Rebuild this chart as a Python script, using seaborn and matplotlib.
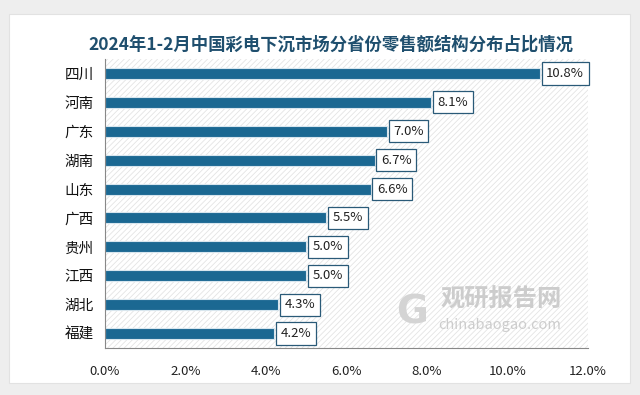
import pandas as pd
import seaborn as sns
import matplotlib.pyplot as plt
from matplotlib.patches import Rectangle
from matplotlib.ticker import FuncFormatter

# provinces and retail share (%)
provinces = ['四川', '河南', '广东', '湖南', '山东', '广西', '贵州', '江西', '湖北', '福建']
shares = [10.8, 8.1, 7.0, 6.7, 6.6, 5.5, 5.0, 5.0, 4.3, 4.2]
x_ticks = [0, 2, 4, 6, 8, 10, 12]

df = pd.DataFrame({'province': provinces, 'share': shares})

sns.set_style('white')
plt.rcParams['font.family'] = ['Noto Sans CJK SC', 'DejaVu Sans']
plt.rcParams['hatch.linewidth'] = 0.6

fig = plt.figure(figsize=(6.4, 3.95), dpi=100)
fig.patch.set_facecolor('#eeeeee')
# white card behind the chart
fig.patches.append(Rectangle((9 / 640, 1 - 383 / 395), 621 / 640, 369 / 395,
                             transform=fig.transFigure, facecolor='white',
                             edgecolor='#e2e2e2', lw=0.8, zorder=-5))

ax = fig.add_axes([105 / 640, 1 - 348 / 395, 483 / 640, 289 / 395])
ax.patch.set_facecolor('white')
ax.patch.set_hatch('//////')
ax.patch.set_edgecolor('#e4e4e4')

sns.barplot(data=df, x='share', y='province', orient='h', color='#1b6892',
            width=0.38, saturation=1, ax=ax, edgecolor='#d8e6ee', linewidth=0.8)

# value labels in boxes
for i, v in enumerate(shares):
    ax.text(v + 0.16, i, f'{v:.1f}%', va='center', ha='left', fontsize=9.5,
            color='#222222',
            bbox=dict(boxstyle='square,pad=0.35', facecolor='white',
                      edgecolor='#2a5a78', lw=0.9))

ax.set_xlim(0, 12)
ax.set_ylim(len(provinces) - 0.5, -0.5)
ax.set_xticks(x_ticks)
ax.xaxis.set_major_formatter(FuncFormatter(lambda v, p: f'{v:.1f}%'))
ax.set_yticks([i - 0.5 for i in range(len(provinces) + 1)], minor=False)
ax.set_yticklabels([])
ax.set_yticks(range(len(provinces)), minor=True)
ax.set_yticklabels(provinces, minor=True)
ax.tick_params(axis='y', which='major', length=4, color='#888888', width=0.8, direction='out')
ax.tick_params(axis='y', which='minor', length=0, labelsize=10.5, pad=8, labelcolor='#111111')
ax.tick_params(axis='x', length=4, color='#888888', width=0.8, labelsize=9.5,
               pad=8, labelcolor='#222222')
ax.set_xlabel('')
ax.set_ylabel('')

for s in ['top', 'right']:
    ax.spines[s].set_visible(False)
for s in ['left', 'bottom']:
    ax.spines[s].set_color('#888888')
    ax.spines[s].set_linewidth(0.8)

# watermark
fig.text(501 / 640, 1 - 300 / 395, '观研报告网', fontsize=17.5, fontweight='bold',
         color='#c8c8c8', ha='center', va='center', alpha=0.9)
fig.text(500 / 640, 1 - 325 / 395, 'chinabaogao.com', fontsize=10.5,
         color='#c8c8c8', ha='center', va='center', alpha=0.9)
fig.text(412 / 640, 1 - 312 / 395, 'G', fontsize=28, fontweight='bold',
         color='#d4d4d4', ha='center', va='center', family='DejaVu Sans')

fig.text(331 / 640, 1 - 45 / 395, '2024年1-2月中国彩电下沉市场分省份零售额结构分布占比情况',
         fontsize=12.5, fontweight='bold', color='#1f4f6e', ha='center', va='center')

plt.savefig('out.png', dpi=100, facecolor=fig.get_facecolor())
